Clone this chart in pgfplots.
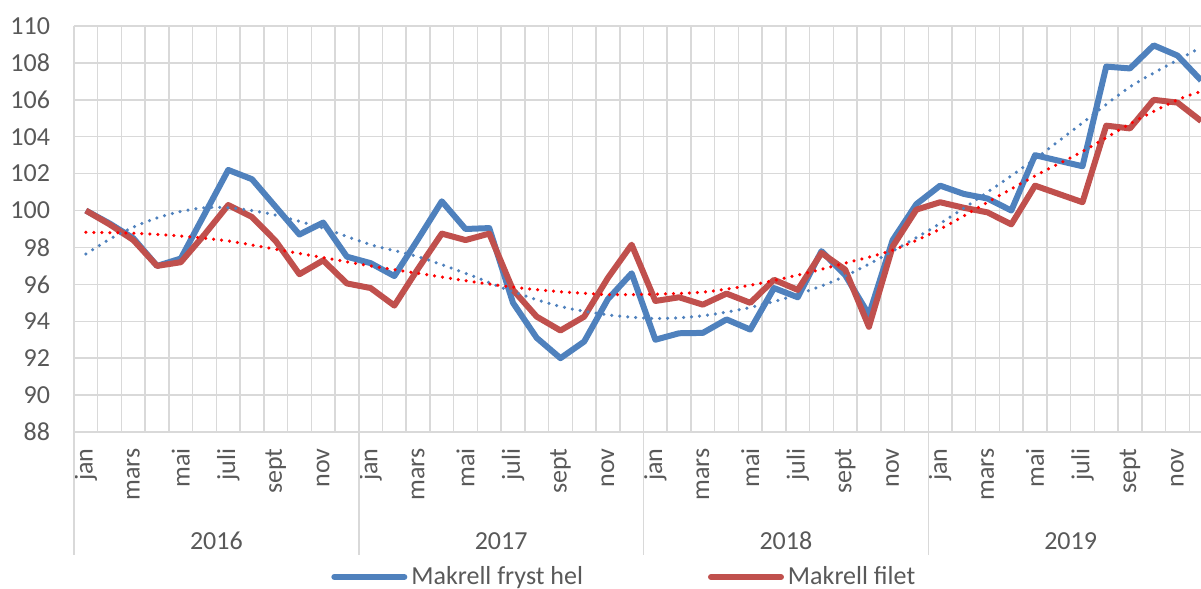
\documentclass[border=0pt]{standalone}
\usepackage{fontspec}
\setmainfont{Carlito}
\usepackage{pgfplots}
\pgfplotsset{compat=1.18}
\definecolor{gridgray}{HTML}{D9D9D9}
\definecolor{txtgray}{HTML}{595959}
\definecolor{mblue}{HTML}{4F81BD}
\definecolor{mred}{HTML}{C0504D}
\definecolor{tred}{HTML}{FF0000}
\begin{document}
\begin{tikzpicture}
\begin{axis}[
  scale only axis,
  width=569.5pt, height=203pt,
  xmin=-0.5, xmax=47.5, ymin=88, ymax=110,
  ytick={88,90,...,110},
  xtick={0,...,47},
  xticklabels={jan,,mars,,mai,,juli,,sept,,nov,,jan,,mars,,mai,,juli,,sept,,nov,,jan,,mars,,mai,,juli,,sept,,nov,,jan,,mars,,mai,,juli,,sept,,nov,},
  minor xtick={-0.5,0.5,...,47.5},
  xminorgrids=true, ymajorgrids=true, xmajorgrids=false,
  grid style={gridgray, line width=0.75pt},
  minor grid style={gridgray, line width=0.75pt},
  major grid style={gridgray, line width=0.75pt},
  axis line style={draw=none},
  major tick length=0pt, minor tick length=0pt,
  xtick pos=bottom, ytick pos=left,
  extra x ticks={-0.5,11.5,23.5,35.5,47.5},
  extra x tick labels={},
  extra x tick style={major tick length=61.5pt, tick align=outside, tick style={gridgray, line width=0.75pt}},
  /pgf/number format/assume math mode=true,
  ticklabel style={text=txtgray},
  yticklabel style={font=\fontsize{13}{15}\selectfont},
  yticklabel shift=8.5pt,
  xticklabel style={font=\fontsize{13}{15}\selectfont, rotate=90, anchor=east},
  xticklabel shift=4.7pt,
  clip mode=individual,
  legend columns=2,
  legend style={at={(0.484,-0.357)}, anchor=center, draw=none, fill=none,
    font=\fontsize{13}{15}\selectfont, text=txtgray,
    /tikz/every even column/.append style={column sep=60.5pt}},
  legend image code/.code={\draw[#1, line cap=round] (0pt,0pt) -- (35pt,0pt);},
]
\addplot[mblue, line width=3pt, line join=round] coordinates {
(0,100.0) (1,99.3) (2,98.5) (3,97.0) (4,97.4) (5,99.8) (6,102.2) (7,101.7) (8,100.2) (9,98.7) (10,99.35) (11,97.5)
(12,97.15) (13,96.45) (14,98.45) (15,100.5) (16,99.0) (17,99.05) (18,95.0) (19,93.1) (20,92.0) (21,92.9) (22,95.2) (23,96.6)
(24,93.0) (25,93.35) (26,93.37) (27,94.1) (28,93.55) (29,95.8) (30,95.3) (31,97.8) (32,96.5) (33,94.35) (34,98.4) (35,100.35)
(36,101.35) (37,100.9) (38,100.65) (39,100.0) (40,103.0) (41,102.7) (42,102.4) (43,107.8) (44,107.7) (45,108.95) (46,108.4) (47,107.05)
};
\addlegendentry{Makrell fryst hel}
\addplot[mred, line width=3pt, line join=round] coordinates {
(0,100.0) (1,99.25) (2,98.4) (3,97.0) (4,97.2) (5,98.7) (6,100.3) (7,99.65) (8,98.35) (9,96.55) (10,97.3) (11,96.05)
(12,95.8) (13,94.85) (14,96.85) (15,98.75) (16,98.4) (17,98.75) (18,95.7) (19,94.25) (20,93.5) (21,94.25) (22,96.35) (23,98.15)
(24,95.1) (25,95.3) (26,94.9) (27,95.5) (28,95.0) (29,96.25) (30,95.7) (31,97.7) (32,96.8) (33,93.7) (34,98.05) (35,100.05)
(36,100.45) (37,100.15) (38,99.9) (39,99.25) (40,101.35) (41,100.9) (42,100.45) (43,104.6) (44,104.45) (45,106.0) (46,105.85) (47,104.85)
};
\addlegendentry{Makrell filet}
\addplot[forget plot, smooth, mblue, line width=1.75pt, line cap=round, dash pattern=on 0pt off 4pt] coordinates {
(0,97.64) (1,98.45) (2,99.1) (3,99.6) (4,99.95) (5,100.15) (6,100.15) (7,100.0) (8,99.75) (10,99.05) (12,98.15)
(14,97.5) (16,96.6) (18,95.6) (20,94.8) (22,94.35) (24,94.15) (26,94.3) (28,94.75) (30,95.45) (32,96.45) (34,97.8)
(36,99.3) (38,101.0) (40,102.8) (42,104.75) (44,106.7) (46,108.15) (47,108.85)
};
\addplot[forget plot, smooth, tred, line width=1.75pt, line cap=round, dash pattern=on 0pt off 4pt] coordinates {
(0,98.82) (2,98.77) (4,98.62) (6,98.35) (8,97.9) (10,97.45) (12,97.0) (14,96.6) (16,96.2) (18,95.85) (20,95.6)
(22,95.45) (24,95.47) (26,95.58) (28,95.95) (30,96.5) (32,97.15) (34,97.85) (36,99.0) (38,100.45) (40,101.88)
(42,103.2) (44,104.7) (46,106.0) (47,106.45)
};
\node[font=\fontsize{13}{15}\selectfont, text=txtgray, yshift=-54.5pt] at (axis cs:5.5,88) {2016};
\node[font=\fontsize{13}{15}\selectfont, text=txtgray, yshift=-54.5pt] at (axis cs:17.5,88) {2017};
\node[font=\fontsize{13}{15}\selectfont, text=txtgray, yshift=-54.5pt] at (axis cs:29.5,88) {2018};
\node[font=\fontsize{13}{15}\selectfont, text=txtgray, yshift=-54.5pt] at (axis cs:41.5,88) {2019};
\coordinate (bl) at (rel axis cs:0,0);
\coordinate (tr) at (rel axis cs:1,1);
\end{axis}
\pgfresetboundingbox
\useasboundingbox ([xshift=-37pt,yshift=-78pt]bl) rectangle ([xshift=-6pt,yshift=13pt]tr);
\end{tikzpicture}
\end{document}
